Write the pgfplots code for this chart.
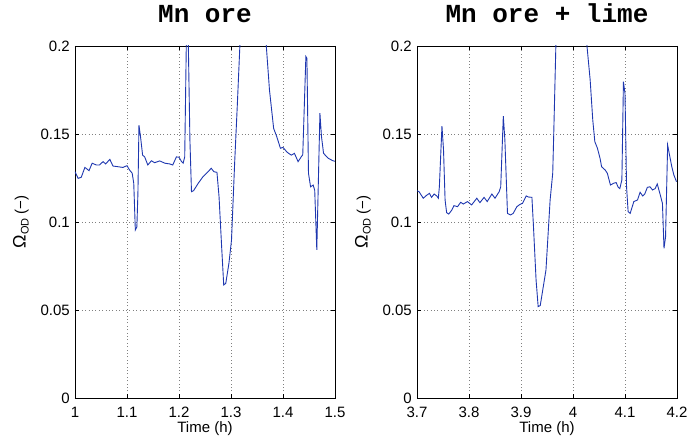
\documentclass[border=0pt]{standalone}
\usepackage{fontspec}
\setmainfont{Liberation Sans}
\newfontfamily\titlefont{Liberation Mono}
\usepackage{pgfplots}
\pgfplotsset{compat=1.18}

\definecolor{mblue}{RGB}{30,55,175}

\pgfplotsset{
  mlab/.style={
    scale only axis, width=260bp, height=352bp,
    ymin=0, ymax=0.2,
    ytick={0,0.05,0.1,0.15,0.2},
    scaled ticks=false,
    tick align=inside, major tick length=4bp,
    axis line style={line width=0.9bp},
    every tick/.style={black, line width=0.6bp},
    grid=major,
    major grid style={black!50, line width=0.6bp, dash pattern=on 0.8bp off 2.6bp},
    /pgf/number format/assume math mode=true,
    /pgf/number format/fixed,
    yticklabel style={font=\fontsize{15bp}{17bp}\selectfont,
      anchor=east, inner sep=0pt, xshift=-5bp,
      /pgf/number format/precision=2},
    xticklabel style={font=\fontsize{15bp}{17bp}\selectfont,
      anchor=base, inner sep=0pt, yshift=-19bp,
      /pgf/number format/precision=1},
    title style={at={(axis description cs:0.5,1.05)}, anchor=base, inner sep=0pt,
      font=\titlefont\bfseries\fontsize{26bp}{30bp}\selectfont},
    xlabel style={font=\fontsize{15bp}{17bp}\selectfont,
      at={(axis description cs:0.5,-0.0994)}, anchor=base, inner sep=0pt},
    ylabel style={font=\fontsize{15bp}{17bp}\selectfont,
      at={(axis description cs:-0.19,0.5)}, anchor=base, inner sep=0pt},
    xlabel={Time (h)},
    ylabel={{\fontsize{18bp}{18bp}\selectfont Ω}\raisebox{-3bp}{\fontsize{11bp}{11bp}\selectfont OD} (−)},
    cycle list={{mblue}},
    every axis plot/.append style={line width=0.9bp, no marks},
  }
}

\begin{document}
\begin{tikzpicture}
\begin{axis}[mlab, at={(0bp,0bp)}, anchor=south west,
  xmin=1, xmax=1.5, xtick={1,1.1,1.2,1.3,1.4,1.5},
  title={Mn ore}]
\addplot table {
x y
1.000 0.1286
1.006 0.1248
1.012 0.1254
1.019 0.1310
1.027 0.1292
1.033 0.1334
1.041 0.1324
1.047 0.1324
1.054 0.1343
1.059 0.1330
1.067 0.1356
1.073 0.1318
1.083 0.1314
1.092 0.1310
1.100 0.1320
1.105 0.1295
1.110 0.1277
1.113 0.1220
1.116 0.0955
1.119 0.0973
1.121 0.1163
1.123 0.1550
1.126 0.1485
1.130 0.1380
1.134 0.1370
1.140 0.1324
1.147 0.1348
1.153 0.1337
1.163 0.1347
1.173 0.1334
1.182 0.1330
1.188 0.1324
1.195 0.1370
1.200 0.1368
1.205 0.1343
1.208 0.1334
1.211 0.1370
1.214 0.2000
1.216 0.2150
1.218 0.2000
1.221 0.1466
1.224 0.1172
1.228 0.1178
1.237 0.1220
1.246 0.1257
1.253 0.1277
1.262 0.1305
1.267 0.1286
1.273 0.1282
1.277 0.1144
1.282 0.0860
1.286 0.0642
1.290 0.0652
1.296 0.0765
1.301 0.0898
1.307 0.1334
1.312 0.1655
1.317 0.1996
1.330 0.2700
1.342 0.3000
1.355 0.2700
1.368 0.1996
1.374 0.1750
1.382 0.1532
1.388 0.1485
1.395 0.1419
1.400 0.1424
1.408 0.1396
1.416 0.1380
1.422 0.1390
1.429 0.1343
1.435 0.1370
1.438 0.1382
1.444 0.1940
1.446 0.1930
1.449 0.1277
1.453 0.1200
1.458 0.1210
1.461 0.1180
1.465 0.0841
1.471 0.1618
1.474 0.1485
1.478 0.1390
1.487 0.1362
1.496 0.1348
1.500 0.1345
};
\end{axis}

\begin{axis}[mlab, at={(342bp,0bp)}, anchor=south west,
  xmin=3.7, xmax=4.2, xtick={3.7,3.8,3.9,4,4.1,4.2},
  title={Mn ore + lime}]
\addplot table {
x y
3.700 0.1178
3.704 0.1172
3.712 0.1135
3.719 0.1153
3.724 0.1163
3.728 0.1140
3.733 0.1159
3.738 0.1148
3.741 0.1135
3.743 0.1200
3.748 0.1545
3.751 0.1410
3.754 0.1125
3.757 0.1053
3.761 0.1045
3.767 0.1068
3.771 0.1093
3.778 0.1087
3.784 0.1112
3.789 0.1102
3.797 0.1116
3.805 0.1097
3.815 0.1135
3.821 0.1110
3.829 0.1140
3.835 0.1116
3.844 0.1159
3.850 0.1135
3.858 0.1172
3.861 0.1200
3.866 0.1602
3.869 0.1466
3.874 0.1049
3.880 0.1040
3.885 0.1049
3.892 0.1087
3.898 0.1100
3.903 0.1106
3.910 0.1148
3.914 0.1142
3.921 0.1140
3.924 0.0973
3.929 0.0670
3.933 0.0519
3.937 0.0525
3.948 0.0727
3.956 0.1125
3.961 0.1277
3.963 0.1504
3.967 0.1996
3.980 0.2800
3.996 0.3200
4.012 0.2800
4.027 0.1996
4.033 0.1807
4.038 0.1580
4.042 0.1456
4.047 0.1419
4.052 0.1362
4.055 0.1314
4.062 0.1295
4.066 0.1277
4.072 0.1210
4.078 0.1220
4.083 0.1224
4.087 0.1197
4.090 0.1190
4.094 0.1239
4.097 0.1797
4.100 0.1730
4.103 0.1200
4.106 0.1059
4.110 0.1049
4.113 0.1078
4.117 0.1116
4.124 0.1125
4.129 0.1169
4.134 0.1148
4.138 0.1159
4.143 0.1197
4.148 0.1200
4.153 0.1182
4.158 0.1190
4.162 0.1216
4.167 0.1163
4.172 0.1106
4.175 0.0850
4.178 0.0916
4.182 0.1437
4.185 0.1390
4.190 0.1314
4.194 0.1267
4.199 0.1229
};
\end{axis}
\pgfresetboundingbox
\useasboundingbox (-75bp,-38bp) rectangle (614bp,398bp);
\end{tikzpicture}
\end{document}
